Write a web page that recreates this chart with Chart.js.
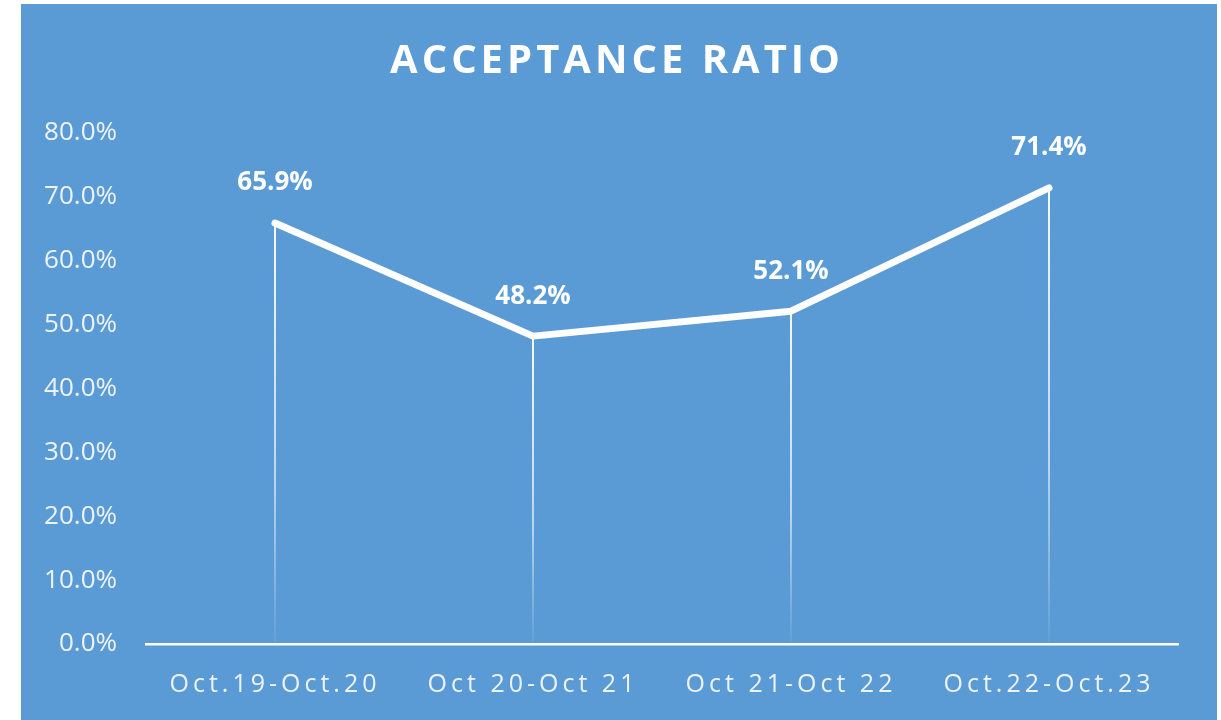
<!DOCTYPE html>
<html><head><meta charset="utf-8">
<script src="https://cdn.jsdelivr.net/npm/chart.js@4.4.1/dist/chart.umd.min.js"></script>
<style>
html,body{margin:0;padding:0;background:#fff;width:1221px;height:720px;overflow:hidden}
#wrap{position:absolute;left:21px;top:4px;width:1196px;height:716px;background:#5B9BD5}
canvas{display:block}
</style></head><body>
<div id="wrap"><canvas id="c" width="1196" height="716"></canvas></div>
<script>
const chartTitle = 'ACCEPTANCE RATIO';
const categories = ['Oct.19-Oct.20', 'Oct 20-Oct 21', 'Oct 21-Oct 22', 'Oct.22-Oct.23'];
const acceptance = [65.9, 48.2, 52.1, 71.4];
const yMin = 0, yMax = 80, yStep = 10;

const FONT = "'Open Sans', 'Liberation Sans', sans-serif";

const decorPlugin = {
  id: 'decor',
  beforeDatasetsDraw(chart) {
    const ctx = chart.ctx, xs = chart.scales.x, ys = chart.scales.y;
    const base = ys.getPixelForValue(yMin) - 2;
    acceptance.forEach((v, i) => {
      const x = xs.getPixelForValue(i);
      const y = ys.getPixelForValue(v);
      const g = ctx.createLinearGradient(0, y, 0, base);
      g.addColorStop(0, 'rgba(255,255,255,0.95)');
      g.addColorStop(0.6, 'rgba(255,255,255,0.6)');
      g.addColorStop(1, 'rgba(255,255,255,0.05)');
      ctx.save();
      ctx.strokeStyle = g;
      ctx.lineWidth = 2;
      ctx.beginPath();
      ctx.moveTo(x, y);
      ctx.lineTo(x, base);
      ctx.stroke();
      ctx.restore();
    });
  },
  afterDatasetsDraw(chart) {
    const ctx = chart.ctx, xs = chart.scales.x, ys = chart.scales.y;
    ctx.save();
    ctx.fillStyle = '#ffffff';
    ctx.font = "bold 26px " + FONT;
    ctx.textAlign = 'center';
    ctx.textBaseline = 'middle';
    acceptance.forEach((v, i) => {
      ctx.fillText(v.toFixed(1) + '%', xs.getPixelForValue(i), ys.getPixelForValue(v) - 40);
    });
    ctx.restore();
    ctx.letterSpacing = '4px';
  },
  afterDraw(chart) {
    const ctx = chart.ctx;
    ctx.letterSpacing = '0px';
    ctx.save();
    ctx.letterSpacing = '4px';
    ctx.fillStyle = '#ffffff';
    ctx.font = "bold 40px " + FONT;
    ctx.textAlign = 'center';
    ctx.textBaseline = 'middle';
    ctx.fillText(chartTitle, chart.width / 2 - 2, 58);
    ctx.restore();
  }
};

new Chart(document.getElementById('c'), {
  type: 'line',
  data: {
    labels: categories,
    datasets: [{
      data: acceptance,
      borderColor: '#ffffff',
      borderWidth: 7,
      borderCapStyle: 'round',
      borderJoinStyle: 'round',
      pointRadius: 0,
      pointHoverRadius: 0,
      tension: 0,
      fill: false,
      clip: false
    }]
  },
  options: {
    responsive: false,
    animation: false,
    events: [],
    layout: { padding: { top: 129, right: 39, bottom: 0, left: 0 } },
    plugins: { legend: { display: false }, tooltip: { enabled: false }, title: { display: false } },
    scales: {
      x: {
        offset: true,
        grid: { display: false, drawTicks: false },
        border: { display: true, color: '#ffffff', width: 2.5, z: 1 },
        ticks: {
          z: 1,
          color: '#EEF3FA',
          font: { family: FONT, size: 25 },
          padding: 26,
          maxRotation: 0,
          autoSkip: false
        },
        afterFit(s) { s.height = 76; }
      },
      y: {
        min: yMin, max: yMax,
        grid: { display: false, drawTicks: false },
        border: { display: false },
        ticks: {
          stepSize: yStep,
          color: '#EEF3FA',
          font: { family: FONT, size: 26 },
          padding: 29,
          callback: v => Number(v).toFixed(1) + '%'
        },
        afterFit(s) { s.width = 125; }
      }
    }
  },
  plugins: [decorPlugin]
});
</script>
</body></html>
